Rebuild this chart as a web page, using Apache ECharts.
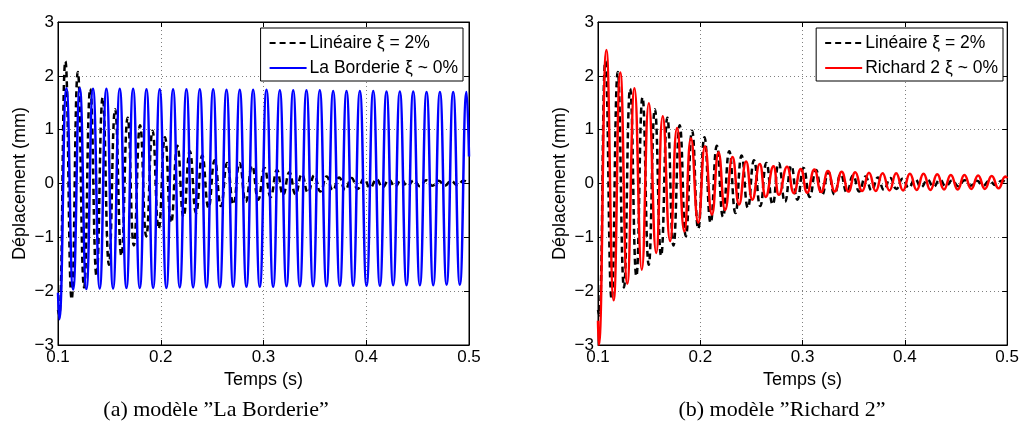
<!DOCTYPE html>
<html><head><meta charset="utf-8">
<script src="https://cdn.jsdelivr.net/npm/echarts@6/dist/echarts.min.js"></script>
<style>html,body{margin:0;padding:0;background:#fff}#c{width:1022px;height:432px}</style>
</head><body><div id="c"></div>
<script>
// ---- tick labels ----
const xTickLabels = ['0.1', '0.2', '0.3', '0.4', '0.5'];
const yTickLabels = ['\u22123', '\u22122', '\u22121', '0', '1', '2', '3'];

// ---- Linéaire ξ = 2% (extrema) ----
const linStart = [[0.1, -2.35], [0.1011, -2.45]];
const linPeakT = [0.1072,0.1193,0.1314,0.1435,0.1556,0.1678,0.1799,0.1920,0.2041,0.2162,0.2283,0.2404,0.2525,0.2646,0.2767,0.2889,0.3010,0.3131,0.3252,0.3373,0.3494,0.3615,0.3736,0.3857,0.3978,0.4100,0.4221,0.4342,0.4463,0.4584,0.4705,0.4826,0.4947];
const linPeakV = [2.27,2.07,1.76,1.60,1.38,1.22,1.08,0.98,0.86,0.70,0.60,0.52,0.43,0.38,0.38,0.33,0.29,0.25,0.21,0.17,0.15,0.13,0.11,0.10,0.09,0.08,0.07,0.07,0.06,0.06,0.05,0.05,0.05];
const linTroughT = [0.1133,0.1254,0.1375,0.1496,0.1617,0.1738,0.1859,0.1980,0.2101,0.2222,0.2344,0.2465,0.2586,0.2707,0.2828,0.2949,0.3070,0.3191,0.3312,0.3433,0.3554,0.3675,0.3796,0.3917,0.4038,0.4159,0.4280,0.4401,0.4522,0.4643,0.4765,0.4886];
const linTroughV = [-2.15,-1.93,-1.72,-1.51,-1.34,-1.15,-0.98,-0.84,-0.73,-0.62,-0.55,-0.45,-0.42,-0.39,-0.34,-0.30,-0.25,-0.21,-0.20,-0.17,-0.15,-0.13,-0.12,-0.10,-0.08,-0.07,-0.06,-0.05,-0.05,-0.04,-0.04,-0.03];
const linEnd = [[0.5, 0.0]];

// ---- La Borderie ξ ~ 0% ----
const lbStart = [[0.1, -2.03], [0.1012, -2.52]];
const lbPeakT = [0.1082,0.1212,0.1341,0.1471,0.1601,0.1731,0.1861,0.1990,0.2120,0.2250,0.2380,0.2510,0.2640,0.2769,0.2899,0.3029,0.3159,0.3289,0.3418,0.3548,0.3678,0.3808,0.3938,0.4068,0.4197,0.4327,0.4457,0.4587,0.4717,0.4846,0.4976];
const lbPeakV = [1.77,1.77,1.76,1.76,1.76,1.76,1.75,1.75,1.75,1.75,1.75,1.75,1.74,1.74,1.74,1.74,1.73,1.73,1.73,1.73,1.72,1.72,1.72,1.72,1.71,1.71,1.71,1.70,1.70,1.70,1.70];
const lbTroughT = [0.1147,0.1276,0.1406,0.1536,0.1666,0.1796,0.1926,0.2055,0.2185,0.2315,0.2445,0.2575,0.2705,0.2834,0.2964,0.3094,0.3224,0.3354,0.3483,0.3613,0.3743,0.3873,0.4003,0.4133,0.4262,0.4392,0.4522,0.4652,0.4782,0.4911];
const lbTroughV = [-1.97,-1.96,-1.95,-1.95,-1.94,-1.94,-1.94,-1.94,-1.93,-1.93,-1.93,-1.93,-1.92,-1.92,-1.92,-1.92,-1.91,-1.91,-1.91,-1.91,-1.90,-1.90,-1.90,-1.90,-1.89,-1.89,-1.89,-1.89,-1.88,-1.88];
const lbEnd = [[0.5, 0.5]];

// ---- Richard 2 ξ ~ 0% ----
const r2Start = [[0.1, -2.55], [0.1008, -3.0]];
const r2PeakT = [0.1082,0.1218,0.1357,0.1497,0.1633,0.1773,0.1909,0.2046,0.2178,0.2315,0.2448,0.2581,0.2715,0.2848,0.2982,0.3115,0.3248,0.3382,0.3515,0.3649,0.3782,0.3915,0.4049,0.4182,0.4316,0.4449,0.4582,0.4716,0.4849,0.4983];
const r2PeakV = [2.48,2.06,1.77,1.49,1.25,1.03,0.84,0.69,0.58,0.49,0.41,0.36,0.32,0.31,0.27,0.26,0.23,0.22,0.21,0.20,0.19,0.19,0.18,0.18,0.17,0.16,0.16,0.15,0.14,0.13];
const r2TroughT = [0.1153,0.1286,0.1428,0.1569,0.1705,0.1844,0.1980,0.2114,0.2243,0.2379,0.2509,0.2640,0.2769,0.2915,0.3045,0.3182,0.3315,0.3448,0.3582,0.3715,0.3849,0.3982,0.4115,0.4249,0.4382,0.4516,0.4649,0.4782,0.4916];
const r2TroughV = [-2.17,-1.86,-1.60,-1.29,-1.07,-0.89,-0.73,-0.58,-0.49,-0.39,-0.30,-0.25,-0.21,-0.18,-0.17,-0.16,-0.15,-0.15,-0.14,-0.14,-0.13,-0.13,-0.12,-0.12,-0.11,-0.11,-0.10,-0.10,-0.09];
const r2End = [[0.5, 0.10]];

const names = { lin: 'Lin\u00e9aire \u03be = 2%', lb: 'La Borderie \u03be ~ 0%', r2: 'Richard 2 \u03be ~ 0%' };

function build(start, pT, pV, tT, tV, end) {
  const pts = start.slice();
  pT.forEach((t, i) => pts.push([t, pV[i]]));
  tT.forEach((t, i) => pts.push([t, tV[i]]));
  end.forEach(p => pts.push(p));
  pts.sort((a, b) => a[0] - b[0]);
  return pts;
}
const linData = build(linStart, linPeakT, linPeakV, linTroughT, linTroughV, linEnd);
const lbData = build(lbStart, lbPeakT, lbPeakV, lbTroughT, lbTroughV, lbEnd);
const r2Data = build(r2Start, r2PeakT, r2PeakV, r2TroughT, r2TroughV, r2End);

const SANS = 'Liberation Sans';
function xAxes(g) {
  return [{
    gridIndex: g, type: 'value', min: 0.1, max: 0.5, interval: 0.1, position: 'bottom',
    axisLine: { show: true, onZero: false, lineStyle: { color: '#000', width: 1 } },
    axisTick: { show: true, inside: true, length: 5, lineStyle: { color: '#000' } },
    axisLabel: { color: '#000', fontSize: 17, fontFamily: SANS, margin: 4,
      formatter: (v, i) => xTickLabels[i] },
    splitLine: { show: true, lineStyle: { type: [1, 3], color: '#808080', width: 1 } },
    name: 'Temps (s)', nameLocation: 'middle', nameGap: 24,
    nameTextStyle: { color: '#000', fontSize: 18, fontFamily: SANS }
  }, {
    gridIndex: g, type: 'value', min: 0.1, max: 0.5, interval: 0.1, position: 'top',
    axisLine: { show: true, onZero: false, lineStyle: { color: '#000', width: 1 } },
    axisTick: { show: true, inside: true, length: 5, lineStyle: { color: '#000' } },
    axisLabel: { show: false }, splitLine: { show: false }
  }];
}
function yAxes(g) {
  return [{
    gridIndex: g, type: 'value', min: -3, max: 3, interval: 1, position: 'left',
    axisLine: { show: true, onZero: false, lineStyle: { color: '#000', width: 1 } },
    axisTick: { show: true, inside: true, length: 5, lineStyle: { color: '#000' } },
    axisLabel: { color: '#000', fontSize: 17, fontFamily: SANS, margin: 4,
      formatter: (v, i) => yTickLabels[i] },
    splitLine: { show: true, lineStyle: { type: [1, 3], color: '#808080', width: 1 } },
    name: 'D\u00e9placement (mm)', nameLocation: 'middle', nameGap: 29, nameRotate: 90,
    nameTextStyle: { color: '#000', fontSize: 18, fontFamily: SANS }
  }, {
    gridIndex: g, type: 'value', min: -3, max: 3, interval: 1, position: 'right',
    axisLine: { show: true, onZero: false, lineStyle: { color: '#000', width: 1 } },
    axisTick: { show: true, inside: true, length: 5, lineStyle: { color: '#000' } },
    axisLabel: { show: false }, splitLine: { show: false }
  }];
}

function line(name, data, xi, yi, color, dashed, z) {
  return {
    type: 'line', name, data, xAxisIndex: xi, yAxisIndex: yi,
    smooth: 0.5, symbol: 'none', showSymbol: false, clip: true, z,
    lineStyle: { color, width: 2.5, type: dashed ? [6, 4] : 'solid' },
    itemStyle: { color }
  };
}

const legendCommon = {
  orient: 'vertical', top: 28, itemWidth: 37, itemHeight: 14, itemGap: 7,
  padding: [6, 5, 4, 8], borderColor: '#000', borderWidth: 1, backgroundColor: '#fff',
  itemStyle: { opacity: 0, borderWidth: 0 },
  textStyle: { color: '#000', fontSize: 17.5, fontFamily: SANS, padding: [0, 0, 0, -2] }, z: 10
};

const chart = echarts.init(document.getElementById('c'), null, { renderer: 'canvas' });
chart.setOption({
  animation: false,
  backgroundColor: '#fff',
  grid: [
    { left: 58, top: 22, width: 411, height: 323, show: true, borderColor: '#000', borderWidth: 1, backgroundColor: 'transparent' },
    { left: 598, top: 22, width: 411, height: 323, show: true, borderColor: '#000', borderWidth: 1, backgroundColor: 'transparent' }
  ],
  xAxis: [...xAxes(0), ...xAxes(1)],
  yAxis: [...yAxes(0), ...yAxes(1)],
  legend: [
    Object.assign({}, legendCommon, { right: 559, data: [names.lin, names.lb] }),
    Object.assign({}, legendCommon, { right: 19, data: [names.lin, names.r2] })
  ],
  series: [
    line(names.lin, linData, 0, 0, '#000000', true, 2),
    line(names.lb, lbData, 0, 0, '#0000ff', false, 3),
    line(names.lin, linData, 2, 2, '#000000', true, 2),
    line(names.r2, r2Data, 2, 2, '#ff0000', false, 3)
  ],
  graphic: [
    { type: 'text', x: 216, y: 410, style: { text: '(a) mod\u00e8le \u201dLa Borderie\u201d', align: 'center', verticalAlign: 'middle', font: '22px "Liberation Serif"', fill: '#000' } },
    { type: 'text', x: 782, y: 410, style: { text: '(b) mod\u00e8le \u201dRichard 2\u201d', align: 'center', verticalAlign: 'middle', font: '22px "Liberation Serif"', fill: '#000' } }
  ]
});
</script></body></html>
